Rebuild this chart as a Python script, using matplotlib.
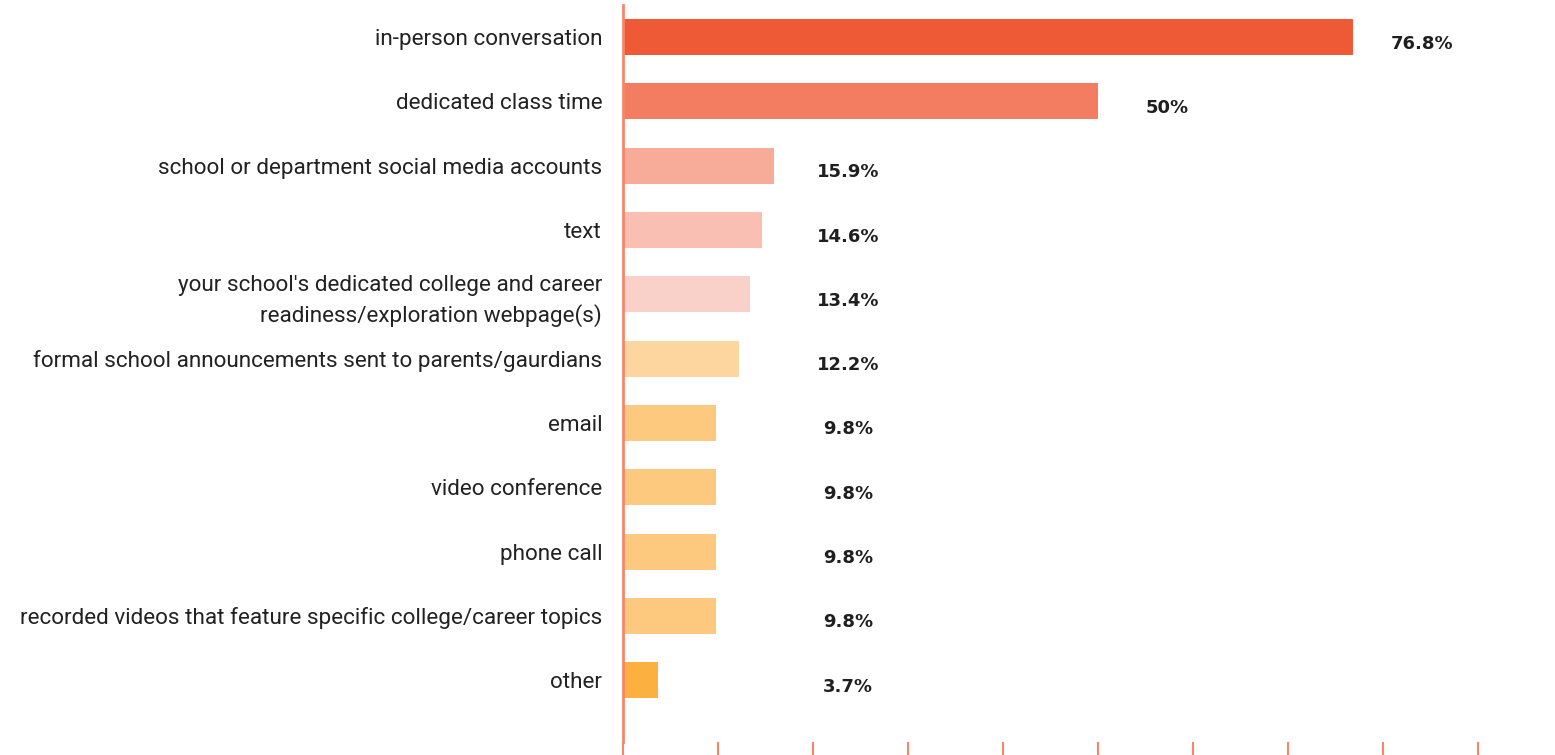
import matplotlib.pyplot as plt
import numpy as np

categories = [
    "in-person conversation",
    "dedicated class time",
    "school or department social media accounts",
    "text",
    "your school's dedicated college and career\nreadiness/exploration webpage(s)",
    "formal school announcements sent to parents/gaurdians",
    "email",
    "video conference",
    "phone call",
    "recorded videos that feature specific college/career topics",
    "other",
]
values = [76.8, 50, 15.9, 14.6, 13.4, 12.2, 9.8, 9.8, 9.8, 9.8, 3.7]
labels = ["76.8%", "50%", "15.9%", "14.6%", "13.4%", "12.2%", "9.8%", "9.8%", "9.8%", "9.8%", "3.7%"]
colors = ["#EE5A36", "#F27D60", "#F6AC99", "#F8BFB2", "#FAD1C8", "#FDD59E",
          "#FCC97E", "#FCC97E", "#FCC97E", "#FCC97E", "#FBB040"]

fig = plt.figure(figsize=(15.55, 7.55), dpi=100)
ax = fig.add_axes([623 / 1555, 13 / 755, 1 - 623 / 1555, 737 / 755])

y = np.arange(len(values))
ax.barh(y, values, height=0.56, color=colors)

# value labels, pushed right with a floor so the small ones line up
for yi, v, lab in zip(y, values, labels):
    ax.text(max(v, 16.4) + 7.3, yi + 0.1, lab, ha="center", va="center",
            fontsize=13, fontweight="bold", family="DejaVu Sans", color="#1f1f1f")

ax.set_yticks(y)
ax.set_yticklabels(categories, fontsize=16.2, family="Roboto", color="#222222",
                   linespacing=1.45)
ax.tick_params(axis="y", length=0, pad=15)
ax.set_ylim(10.96, -0.5)

ax.set_xlim(0, 98.1)
ax.set_xticks(np.arange(0, 100, 10))
ax.tick_params(axis="x", length=10, width=1.5, color="#F4866A", labelbottom=False)

for s in ["top", "right", "bottom"]:
    ax.spines[s].set_visible(False)
ax.spines["left"].set_color("#F4866A")
ax.spines["left"].set_linewidth(2)

fig.savefig("out.png", dpi=100)
